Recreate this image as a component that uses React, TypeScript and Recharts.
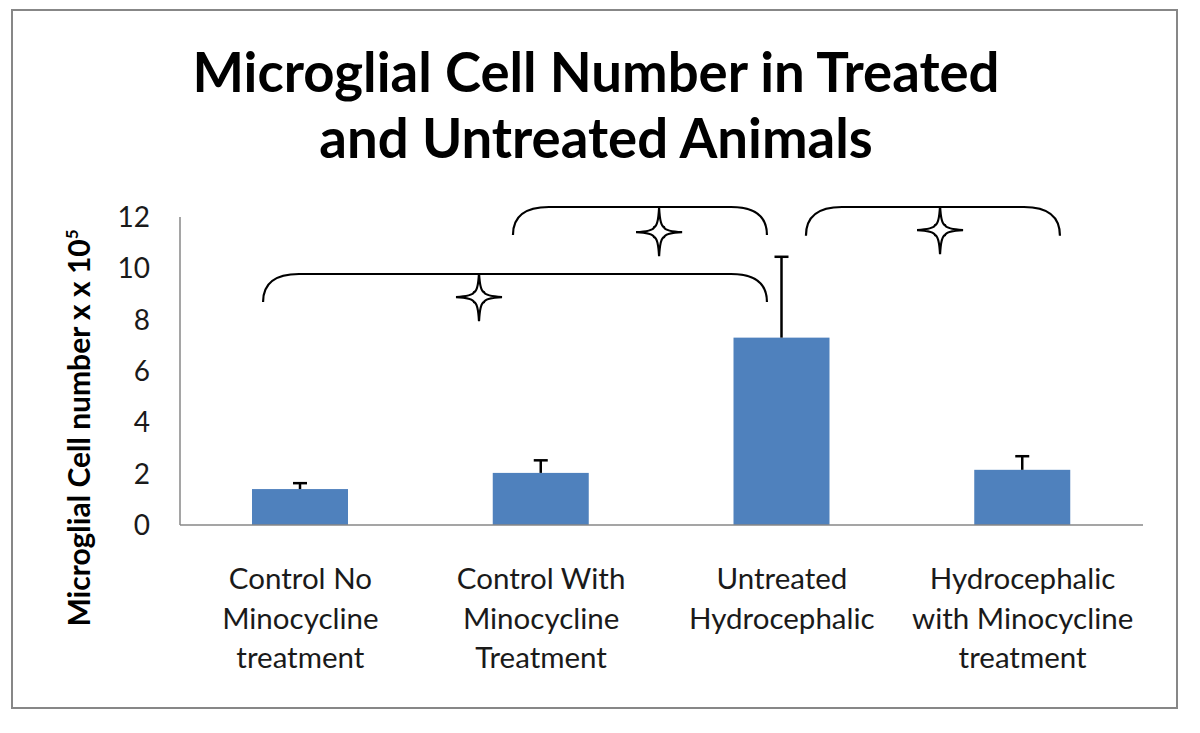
import React from "react";
import { BarChart, Bar, XAxis, YAxis, ReferenceArea, ReferenceDot } from "recharts";

const categories = [
  ["Control No", "Minocycline", "treatment"],
  ["Control With", "Minocycline", "Treatment"],
  ["Untreated", "Hydrocephalic"],
  ["Hydrocephalic", "with Minocycline", "treatment"],
];
const positions = [0.5, 1.5, 2.5, 3.5];
const means = [1.4, 2.03, 7.3, 2.15];
const errorTops = [1.63, 2.52, 10.45, 2.68];
const yTicks = [0, 2, 4, 6, 8, 10, 12];

// significance brackets, in axis units
const bracketFrom = [0.345, 1.383, 2.6];
const bracketTo = [2.438, 2.438, 3.655];
const bracketTop = [9.78, 12.39, 12.39];
const bracketEnd = [8.69, 11.3, 11.27];
const starX = [1.242, 1.99, 3.157];
const starY = [8.88, 11.41, 11.49];

const FONT = "Lato, 'Open Sans', sans-serif";
const AXIS_GRAY = "#878787";
const BAR_BLUE = "#4F81BD";

const data = positions.map((pos, i) => ({
  pos,
  mean: means[i],
  errTop: errorTops[i],
}));

const BarWithError = (props: any) => {
  const { x, y, width, height, payload } = props;
  const perUnit = height / payload.mean;
  const top = y - (payload.errTop - payload.mean) * perUnit;
  const cx = x + width / 2;
  return (
    <g>
      <rect x={x} y={y} width={width} height={height} fill={BAR_BLUE} />
      <line x1={cx} y1={y} x2={cx} y2={top} stroke="#000" strokeWidth={2.5} />
      <line x1={cx - 7} y1={top} x2={cx + 7} y2={top} stroke="#000" strokeWidth={2.5} />
    </g>
  );
};

const Bracket = (props: any) => {
  const { x, y, width, height } = props;
  const r = 36;
  const d = `M${x},${y + height} Q${x},${y} ${x + r},${y} L${x + width - r},${y} Q${x + width},${y} ${x + width},${y + height}`;
  return <path d={d} fill="none" stroke="#000" strokeWidth={2.2} />;
};

const Star = (props: any) => {
  const { cx, cy } = props;
  const ry = 24;
  const rx = 23;
  const k = 5;
  const c = 3;
  const d =
    `M${cx},${cy - ry} Q${cx + 1},${cy - c - 3} ${cx + k},${cy - k} Q${cx + c + 3},${cy - 1} ${cx + rx},${cy} ` +
    `Q${cx + c + 3},${cy + 1} ${cx + k},${cy + k} Q${cx + 1},${cy + c + 3} ${cx},${cy + ry} ` +
    `Q${cx - 1},${cy + c + 3} ${cx - k},${cy + k} Q${cx - c - 3},${cy + 1} ${cx - rx},${cy} ` +
    `Q${cx - c - 3},${cy - 1} ${cx - k},${cy - k} Q${cx - 1},${cy - c - 3} ${cx},${cy - ry} Z`;
  return <path d={d} fill="#fff" stroke="#000" strokeWidth={2.2} strokeLinejoin="miter" />;
};

const CategoryTick = (props: any) => {
  const { x, y, payload } = props;
  const idx = positions.indexOf(payload.value);
  const lines = idx >= 0 ? categories[idx] : [];
  return (
    <text x={x} y={y} textAnchor="middle" fontFamily={FONT} fontSize={29.5} fill="#1a1a1a">
      {lines.map((ln, i) => (
        <tspan key={i} x={x} y={y + 62 + i * 39.5}>
          {ln}
        </tspan>
      ))}
    </text>
  );
};

const YLabel = () => (
  <text
    x={0}
    y={0}
    transform="translate(90, 428) rotate(-90)"
    textAnchor="middle"
    fontFamily={FONT}
    fontWeight={700}
    fontSize={30}
    fill="#000"
  >
    Microglial Cell number x x 10
    <tspan fontSize={17} dy={-12}>5</tspan>
  </text>
);

export default function App() {
  return (
    <div style={{ position: "relative", width: 1200, height: 733, margin: -8, background: "#fff" }}>
      <div
        style={{
          position: "absolute",
          left: 11,
          top: 9,
          width: 1167,
          height: 700,
          border: `2px solid ${AXIS_GRAY}`,
          boxSizing: "border-box",
        }}
      />
      <div
        style={{
          position: "absolute",
          left: 0,
          top: 38,
          width: 1192,
          textAlign: "center",
          fontFamily: FONT,
          fontWeight: 700,
          fontSize: 54.5,
          lineHeight: "66px",
          color: "#000",
        }}
      >
        Microglial Cell Number in Treated
        <br />
        and Untreated Animals
      </div>
      <div style={{ position: "absolute", left: 0, top: 0 }}>
        <BarChart
          width={1200}
          height={733}
          data={data}
          margin={{ top: 217, right: 57, bottom: 58, left: 0 }}
        >
          <XAxis
            dataKey="pos"
            type="number"
            domain={[0, 4]}
            ticks={positions}
            tick={<CategoryTick />}
            tickLine={false}
            tickSize={0}
            height={150}
            axisLine={{ stroke: AXIS_GRAY, strokeWidth: 1.5 }}
            interval={0}
          />
          <YAxis
            domain={[0, 12]}
            ticks={yTicks}
            width={180}
            tickLine={false}
            tickSize={0}
            tickMargin={30}
            axisLine={{ stroke: AXIS_GRAY, strokeWidth: 1.5 }}
            tick={{ fontFamily: FONT, fontSize: 28, fill: "#1a1a1a" }}
            allowDataOverflow
          />
          <Bar dataKey="mean" barSize={96} shape={<BarWithError />} isAnimationActive={false} />
          {bracketFrom.map((x1, i) => (
            <ReferenceArea
              key={`b${i}`}
              x1={x1}
              x2={bracketTo[i]}
              y1={bracketEnd[i]}
              y2={bracketTop[i]}
              ifOverflow="visible"
              shape={<Bracket />}
            />
          ))}
          {starX.map((sx, i) => (
            <ReferenceDot
              key={`s${i}`}
              x={sx}
              y={starY[i]}
              ifOverflow="visible"
              shape={<Star />}
            />
          ))}
          <YLabel />
        </BarChart>
      </div>
    </div>
  );
}
